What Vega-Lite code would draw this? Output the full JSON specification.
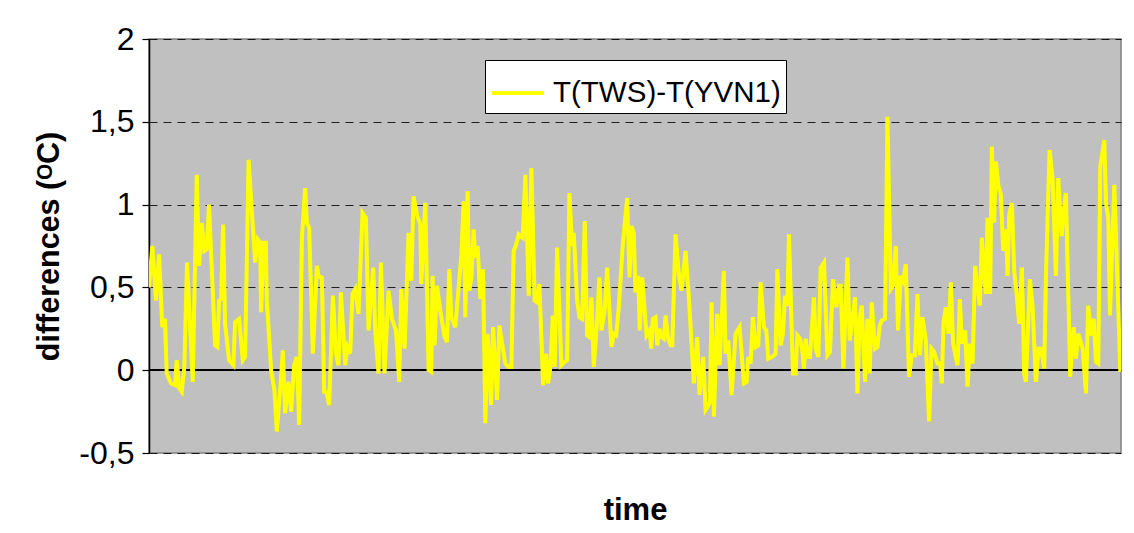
{
  "$schema": "https://vega.github.io/schema/vega-lite/v6.json",
  "width": 972,
  "height": 414,
  "autosize": "none",
  "padding": {"left": 149, "top": 39, "right": 13, "bottom": 80},
  "background": "white",
  "config": {
    "font": "Liberation Sans",
    "view": {"fill": "#C0C0C0", "stroke": "#808080", "strokeWidth": 1.5},
    "locale": {"number": {"decimal": ",", "thousands": ".", "grouping": [3], "currency": ["", ""], "minus": "-"}}
  },
  "data": {"values": [
    {"t":0,"d":0.50},{"t":3.3,"d":0.75},{"t":7,"d":0.42},{"t":10,"d":0.70},{"t":13.3,"d":0.26},{"t":16,"d":0.31},{"t":17.7,"d":-0.02},{"t":22,"d":-0.08},{"t":26,"d":-0.09},{"t":27.7,"d":0.06},{"t":30.3,"d":-0.11},{"t":32.7,"d":-0.13},{"t":35.3,"d":0.02},{"t":38,"d":0.65},{"t":43.7,"d":-0.07},{"t":47.7,"d":1.18},{"t":50,"d":0.63},{"t":52.7,"d":0.89},{"t":55.3,"d":0.72},{"t":57.7,"d":0.73},{"t":60,"d":1.00},{"t":66,"d":0.15},{"t":68.3,"d":0.14},{"t":70,"d":0.42},{"t":72,"d":0.43},{"t":74,"d":0.88},{"t":76,"d":0.28},{"t":80,"d":0.06},{"t":84.3,"d":0.03},{"t":86,"d":0.29},{"t":90,"d":0.31},{"t":93.7,"d":0.06},{"t":96,"d":0.08},{"t":99.5,"d":1.27},
    {"t":106,"d":0.65},{"t":108.7,"d":0.79},{"t":111,"d":0.77},{"t":112,"d":0.35},{"t":114.3,"d":0.77},{"t":116.7,"d":0.77},{"t":117.7,"d":0.42},{"t":122,"d":0.00},{"t":125.3,"d":-0.12},{"t":127.7,"d":-0.37},{"t":131,"d":-0.12},{"t":133.7,"d":0.12},{"t":136,"d":-0.26},{"t":139.3,"d":-0.07},{"t":142,"d":-0.25},{"t":145,"d":0.03},{"t":147.7,"d":0.08},{"t":150,"d":-0.33},{"t":152.7,"d":0.79},{"t":156,"d":1.10},{"t":157.7,"d":0.89},{"t":160,"d":0.86},{"t":163.7,"d":0.10},{"t":167.7,"d":0.63},{"t":169.3,"d":0.57},{"t":172.7,"d":0.56},{"t":175,"d":-0.13},{"t":177.3,"d":-0.13},{"t":180,"d":-0.21},{"t":183.7,"d":0.45},{"t":186.7,"d":0.10},{"t":189.3,"d":0.03},{"t":191.7,"d":0.47},{"t":196,"d":0.03},{"t":198.3,"d":0.14},{"t":201,"d":0.10},
    {"t":203.3,"d":0.46},{"t":206,"d":0.49},{"t":209.3,"d":0.34},{"t":213.3,"d":0.95},{"t":216.7,"d":0.92},{"t":219.3,"d":0.24},{"t":224,"d":0.62},{"t":226,"d":0.24},{"t":229.3,"d":-0.02},{"t":231.7,"d":0.65},{"t":235.3,"d":-0.02},{"t":239.3,"d":0.48},{"t":242.7,"d":0.31},{"t":246.7,"d":0.24},{"t":250,"d":-0.07},{"t":252,"d":0.49},{"t":255.3,"d":0.13},{"t":259.3,"d":0.83},{"t":262,"d":0.54},{"t":264.3,"d":1.05},{"t":267.7,"d":0.94},{"t":271,"d":0.88},{"t":272,"d":0.52},{"t":276,"d":1.01},{"t":279.3,"d":0.00},{"t":282,"d":-0.01},{"t":283.3,"d":0.57},{"t":285.3,"d":0.15},{"t":287.7,"d":0.51},{"t":291,"d":0.36},{"t":295.3,"d":0.20},{"t":297.7,"d":0.17},{"t":300,"d":0.61},
    {"t":302,"d":0.32},{"t":306,"d":0.26},{"t":309.3,"d":0.50},{"t":312,"d":0.69},{"t":314.3,"d":1.02},{"t":316,"d":0.32},{"t":318.3,"d":1.08},{"t":320,"d":0.48},{"t":322,"d":0.56},{"t":324.3,"d":0.85},{"t":326,"d":0.68},{"t":328.3,"d":0.75},{"t":331,"d":0.43},{"t":333.7,"d":0.61},{"t":336,"d":-0.32},{"t":338.3,"d":0.22},{"t":341.7,"d":-0.21},{"t":343.7,"d":0.26},{"t":347.7,"d":-0.18},{"t":350,"d":0.27},{"t":353.3,"d":0.14},{"t":356,"d":0.04},{"t":359.3,"d":0.02},{"t":362,"d":0.02},{"t":364.3,"d":0.72},{"t":367,"d":0.76},{"t":369.3,"d":0.82},{"t":373.3,"d":0.80},{"t":376,"d":1.18},{"t":379.3,"d":0.45},{"t":382,"d":1.22},{"t":385.3,"d":0.42},{"t":387.7,"d":0.41},{"t":390,"d":0.52},{"t":393.7,"d":-0.09},{"t":396.7,"d":0.10},{"t":398.7,"d":-0.08},
    {"t":401,"d":0.02},{"t":403.3,"d":0.33},{"t":405.3,"d":0.02},{"t":407.7,"d":0.74},{"t":412,"d":0.03},{"t":415.3,"d":0.05},{"t":417.7,"d":0.06},{"t":420,"d":1.07},{"t":422.7,"d":0.75},{"t":424.3,"d":0.83},{"t":427.7,"d":0.42},{"t":430,"d":0.32},{"t":432.7,"d":0.31},{"t":435.3,"d":0.90},{"t":437.7,"d":0.21},{"t":440,"d":0.20},{"t":442,"d":0.44},{"t":444.3,"d":0.02},{"t":446.7,"d":0.21},{"t":450,"d":0.56},{"t":452,"d":0.24},{"t":455.3,"d":0.37},{"t":457.7,"d":0.62},{"t":462,"d":0.14},{"t":464.3,"d":0.22},{"t":466.7,"d":0.21},{"t":469.3,"d":0.38},{"t":473.3,"d":0.76},{"t":477.7,"d":1.04},{"t":480,"d":0.56},{"t":482,"d":0.87},{"t":484.3,"d":0.83},{"t":486,"d":0.47},{"t":488.7,"d":0.57},{"t":490.3,"d":0.24},{"t":492.7,"d":0.56},{"t":497,"d":0.21},
    {"t":500,"d":0.24},{"t":501.7,"d":0.13},{"t":503.3,"d":0.31},{"t":506,"d":0.32},{"t":507.7,"d":0.15},{"t":510,"d":0.25},{"t":512,"d":0.20},{"t":514.3,"d":0.19},{"t":516,"d":0.33},{"t":518.7,"d":0.19},{"t":521,"d":0.15},{"t":522.7,"d":0.15},{"t":526,"d":0.82},{"t":529.3,"d":0.58},{"t":532,"d":0.48},{"t":536,"d":0.72},{"t":539.3,"d":0.44},{"t":544.3,"d":-0.08},{"t":547.7,"d":0.20},{"t":550,"d":-0.15},{"t":553.7,"d":0.08},{"t":556,"d":-0.24},{"t":558.3,"d":-0.22},{"t":560.3,"d":-0.19},{"t":562,"d":0.41},{"t":564.3,"d":-0.28},{"t":567.7,"d":0.34},{"t":570,"d":0.03},{"t":574.3,"d":0.60},{"t":576,"d":0.10},{"t":578.7,"d":0.18},{"t":582,"d":-0.15},{"t":586,"d":0.22},{"t":590,"d":0.26},{"t":594.3,"d":-0.08},{"t":597,"d":-0.07},{"t":598.7,"d":0.08},{"t":601,"d":0.04},
    {"t":603.3,"d":0.32},{"t":606,"d":0.14},{"t":608.7,"d":0.15},{"t":611,"d":0.53},{"t":614.3,"d":0.26},{"t":616.7,"d":0.24},{"t":618.7,"d":0.07},{"t":622,"d":0.08},{"t":624.3,"d":0.09},{"t":626,"d":0.10},{"t":627.7,"d":0.61},{"t":631,"d":0.15},{"t":633.3,"d":0.22},{"t":635.3,"d":0.45},{"t":637.7,"d":0.39},{"t":639.3,"d":0.82},{"t":643.3,"d":-0.02},{"t":646,"d":-0.02},{"t":647.7,"d":0.21},{"t":650.3,"d":0.19},{"t":652.7,"d":0.12},{"t":654.3,"d":0.01},{"t":656,"d":0.19},{"t":657.7,"d":0.08},{"t":660.3,"d":0.08},{"t":664.3,"d":0.44},{"t":666,"d":0.13},{"t":668.7,"d":0.08},{"t":671,"d":0.62},{"t":674.3,"d":0.65},{"t":677.7,"d":0.09},{"t":680.3,"d":0.11},{"t":683.3,"d":0.55},{"t":686.7,"d":0.38},{"t":689.3,"d":0.51},{"t":691,"d":0.51},{"t":693.7,"d":0.01},{"t":697.7,"d":0.68},{"t":700,"d":0.18},
    {"t":703.3,"d":0.34},{"t":705.3,"d":0.44},{"t":707.7,"d":-0.14},{"t":710,"d":0.32},{"t":712,"d":0.39},{"t":715.3,"d":-0.07},{"t":717.7,"d":0.31},{"t":720,"d":-0.02},{"t":722,"d":0.41},{"t":725.3,"d":0.13},{"t":727.7,"d":0.14},{"t":730,"d":0.27},{"t":732,"d":0.30},{"t":735.3,"d":0.31},{"t":737.7,"d":1.53},{"t":741,"d":0.49},{"t":743.3,"d":0.51},{"t":746,"d":0.75},{"t":748.3,"d":0.24},{"t":751,"d":0.57},{"t":753.3,"d":0.54},{"t":756,"d":0.64},{"t":759.3,"d":-0.04},{"t":762,"d":0.09},{"t":765,"d":0.09},{"t":767.7,"d":0.46},{"t":770,"d":0.09},{"t":772.7,"d":0.32},{"t":776,"d":0.18},{"t":779.3,"d":-0.31},{"t":781.7,"d":0.13},{"t":784.3,"d":0.11},{"t":787.7,"d":0.04},{"t":790.3,"d":0.04},{"t":792,"d":-0.08},{"t":793.7,"d":0.29},{"t":796,"d":0.38},{"t":798.7,"d":0.22},{"t":801,"d":0.53},
    {"t":803.3,"d":0.16},{"t":807.7,"d":0.03},{"t":810,"d":0.43},{"t":812,"d":0.16},{"t":815.3,"d":0.24},{"t":817.7,"d":-0.10},{"t":820,"d":0.16},{"t":822.7,"d":0.04},{"t":825.3,"d":0.63},{"t":827.7,"d":0.51},{"t":830,"d":0.39},{"t":832,"d":0.80},{"t":834.3,"d":0.58},{"t":836,"d":0.46},{"t":837.7,"d":0.92},{"t":840.3,"d":0.46},{"t":842,"d":1.35},{"t":844.3,"d":0.89},{"t":846,"d":1.26},{"t":848.7,"d":1.11},{"t":851,"d":1.06},{"t":853.3,"d":0.72},{"t":856,"d":0.85},{"t":857.7,"d":0.57},{"t":859.3,"d":0.94},{"t":862,"d":1.01},{"t":864.3,"d":0.60},{"t":866.7,"d":0.46},{"t":869.3,"d":0.28},{"t":872,"d":0.62},{"t":874.3,"d":-0.02},{"t":876,"d":-0.07},{"t":880,"d":0.55},{"t":882.7,"d":0.38},{"t":886,"d":-0.07},{"t":888.7,"d":0.13},{"t":891,"d":0.13},{"t":894.3,"d":0.01},{"t":896,"d":0.56},{"t":897.7,"d":0.93},{"t":899.7,"d":1.33},
    {"t":902.7,"d":1.15},{"t":906,"d":0.57},{"t":908.3,"d":1.16},{"t":911.7,"d":0.81},{"t":913.3,"d":0.94},{"t":916,"d":1.07},{"t":917.7,"d":0.62},{"t":920.3,"d":-0.04},{"t":923.7,"d":0.26},{"t":926,"d":0.07},{"t":928.3,"d":0.22},{"t":932.7,"d":0.13},{"t":936,"d":-0.14},{"t":938.3,"d":0.39},{"t":941,"d":0.21},{"t":943.7,"d":0.31},{"t":946,"d":0.05},{"t":948.3,"d":0.04},{"t":950.3,"d":1.23},{"t":954.3,"d":1.39},{"t":956,"d":1.01},{"t":958.3,"d":0.92},{"t":960,"d":0.33},{"t":964.3,"d":1.12},{"t":967,"d":0.62},{"t":970.3,"d":-0.01}
  ]},
  "layer": [
    {
      "mark": {"type": "rule", "color": "#000000", "strokeWidth": 1.3},
      "encoding": {"y": {"datum": 0, "type": "quantitative"}}
    },
    {
      "mark": {"type": "line", "strokeWidth": 4, "clip": true},
      "encoding": {
        "x": {
          "field": "t", "type": "quantitative",
          "scale": {"domain": [0, 971], "nice": false, "zero": false},
          "axis": {"title": "time", "labels": false, "ticks": false, "domain": false, "grid": false,
                   "titleFontSize": 31, "titleFontWeight": "bold", "titleColor": "#000000", "titlePadding": 42}
        },
        "y": {
          "field": "d", "type": "quantitative",
          "scale": {"domain": [-0.5, 2], "nice": false},
          "axis": {"title": "differences (ᴼC)", "values": [-0.5, 0, 0.5, 1, 1.5, 2], "format": "~g",
                   "grid": true, "gridDash": [8, 6], "gridColor": "#000000", "gridOpacity": 0.85, "gridWidth": 1,
                   "domainColor": "#000000", "domainWidth": 1.5, "tickColor": "#000000", "tickSize": 7, "tickWidth": 1.2,
                   "labelFontSize": 32, "labelColor": "#000000", "labelPadding": 8,
                   "titleFontSize": 30.5, "titleFontWeight": "bold", "titleColor": "#000000", "titlePadding": 14}
        },
        "color": {
          "datum": "T(TWS)-T(YVN1)", "type": "nominal",
          "scale": {"range": ["#FFFF00"]},
          "legend": {"title": null, "orient": "none", "legendX": 336, "legendY": 21,
                     "fillColor": "#FFFFFF", "strokeColor": "#000000", "padding": 5,
                     "symbolType": "stroke", "symbolSize": 2704, "symbolStrokeWidth": 4,
                     "labelFontSize": 29.5, "labelColor": "#000000", "labelOffset": 7, "labelLimit": 0}
        }
      }
    }
  ]
}
